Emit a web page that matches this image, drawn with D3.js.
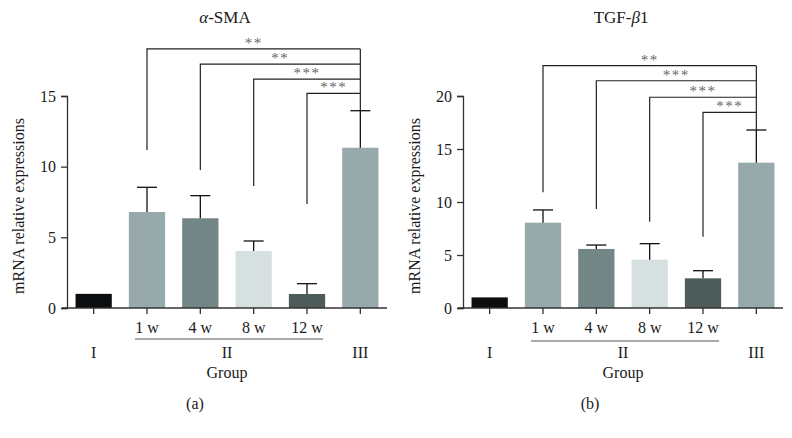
<!DOCTYPE html>
<html>
<head>
<meta charset="utf-8">
<script src="https://cdn.jsdelivr.net/npm/d3@7"></script>
<style>
  html, body { margin: 0; padding: 0; background: #fff; }
  svg { display: block; }
  text { font-family: "Liberation Serif", "DejaVu Serif", serif; fill: #1a1a1a; }
</style>
</head>
<body>
<svg id="chart" width="792" height="438"></svg>
<script>
// ---------- data ----------
const categories = ["I", "1 w", "4 w", "8 w", "12 w", "III"];
const barColors = ["#0b0d0e", "#98a9ac", "#728685", "#d6e0e1", "#4e5b5b", "#98a9ac"];

// Panel (a): alpha-SMA
const smaMeans = [1.0, 6.79, 6.35, 4.03, 0.99, 11.34];
const smaErrTop = [1.0, 8.54, 7.95, 4.74, 1.72, 13.96];
const smaTicks = [0, 5, 10, 15];
const smaBracketFrom = ["1 w", "4 w", "8 w", "12 w"];
const smaBracketLevel = [18.33, 17.25, 16.19, 15.19];
const smaBracketLegEnd = [11.18, 9.77, 8.63, 7.36];
const smaBracketStars = ["**", "**", "***", "***"];

// Panel (b): TGF-beta1
const tgfMeans = [1.0, 8.05, 5.57, 4.56, 2.8, 13.71];
const tgfErrTop = [1.0, 9.25, 5.94, 6.07, 3.52, 16.79];
const tgfTicks = [0, 5, 10, 15, 20];
const tgfBracketFrom = ["1 w", "4 w", "8 w", "12 w"];
const tgfBracketLevel = [22.86, 21.44, 19.88, 18.46];
const tgfBracketLegEnd = [10.92, 9.34, 8.14, 6.73];
const tgfBracketStars = ["**", "***", "***", "***"];

const groupLabels = ["I", "II", "III"];
const weekCats = ["1 w", "4 w", "8 w", "12 w"];
// title pieces: [text, italic?]
const smaTitle = [["α", true], ["-SMA", false]];
const tgfTitle = [["TGF-", false], ["β", true], ["1", false]];

// ---------- drawing ----------
const svg = d3.select("#chart");
const FS = 16;

function drawPanel(opts) {
  const g = svg.append("g").attr("transform", `translate(${opts.dx},0)`);
  const left = 67, right = 387, y0 = 308, yTop = 96;

  const x = d3.scaleBand().domain(categories).range([left, right])
    .paddingInner(0.32).paddingOuter(0.16);
  const y = d3.scaleLinear().domain([0, opts.yMax]).range([y0, yTop]);
  const cx = c => x(c) + x.bandwidth() / 2;

  // bars
  g.selectAll("rect.bar").data(categories).join("rect")
    .attr("class", "bar")
    .attr("x", c => x(c))
    .attr("width", x.bandwidth())
    .attr("y", (c, i) => y(opts.means[i]))
    .attr("height", (c, i) => y0 - y(opts.means[i]))
    .attr("fill", (c, i) => barColors[i]);

  // error bars (upper only)
  const errData = categories.map((c, i) => ({ c, m: opts.means[i], e: opts.errTop[i] }))
    .filter(d => d.e > d.m);
  g.selectAll("line.errv").data(errData).join("line").attr("class", "errv")
    .attr("x1", d => cx(d.c)).attr("x2", d => cx(d.c))
    .attr("y1", d => y(d.m)).attr("y2", d => y(d.e))
    .attr("stroke", "#111").attr("stroke-width", 1.3);
  g.selectAll("line.errh").data(errData).join("line").attr("class", "errh")
    .attr("x1", d => cx(d.c) - 10).attr("x2", d => cx(d.c) + 10)
    .attr("y1", d => y(d.e)).attr("y2", d => y(d.e))
    .attr("stroke", "#111").attr("stroke-width", 1.3);

  // y axis
  const yAxis = d3.axisLeft(y).tickValues(opts.ticks).tickSize(6).tickPadding(5);
  const ya = g.append("g").attr("transform", `translate(${left},0)`).call(yAxis);
  ya.select(".domain").attr("stroke", "#333").attr("stroke-width", 1.3);
  ya.selectAll(".tick line").attr("stroke", "#333").attr("stroke-width", 1.3);
  ya.selectAll(".tick text").attr("font-size", FS)
    .attr("font-family", "Liberation Serif, DejaVu Serif, serif").attr("fill", "#1a1a1a");

  // x axis
  const xAxis = d3.axisBottom(x).tickSize(6).tickFormat("");
  const xa = g.append("g").attr("transform", `translate(0,${y0})`).call(xAxis);
  xa.select(".domain").remove();
  xa.append("line").attr("x1", left - 5).attr("x2", right).attr("y1", 0).attr("y2", 0)
    .attr("stroke", "#333").attr("stroke-width", 1.3);
  xa.selectAll(".tick line").attr("stroke", "#333").attr("stroke-width", 1.3);

  // week labels
  g.selectAll("text.wk").data(weekCats).join("text").attr("class", "wk")
    .attr("x", c => cx(c)).attr("y", 333).attr("text-anchor", "middle")
    .attr("font-size", FS).text(c => c);
  g.append("line")
    .attr("x1", cx("1 w") - 12).attr("x2", cx("12 w") + 16)
    .attr("y1", opts.lineY).attr("y2", opts.lineY)
    .attr("stroke", "#555").attr("stroke-width", 1.2);

  const groupX = [cx("I"), (cx("1 w") + cx("12 w")) / 2, cx("III")];
  g.selectAll("text.grp").data(groupLabels).join("text").attr("class", "grp")
    .attr("x", (d, i) => groupX[i]).attr("y", 358).attr("text-anchor", "middle")
    .attr("font-size", FS).text(d => d);

  g.append("text").attr("x", groupX[1]).attr("y", 378).attr("text-anchor", "middle")
    .attr("font-size", FS).text("Group");

  g.append("text").attr("x", opts.capX).attr("y", 409).attr("text-anchor", "middle")
    .attr("font-size", FS).text(opts.caption);

  // y label
  g.append("text").attr("transform", "translate(24,206) rotate(-90)")
    .attr("text-anchor", "middle").attr("font-size", FS)
    .text("mRNA relative expressions");

  // title
  const t = g.append("text").attr("x", 225).attr("y", 23).attr("text-anchor", "middle")
    .attr("font-size", 17);
  opts.title.forEach(([s, it]) => {
    const sp = t.append("tspan").text(s);
    if (it) sp.attr("font-style", "italic");
  });

  // significance brackets
  const rx = cx("III");
  opts.bFrom.forEach((c, i) => {
    const lx = cx(c), ly = y(opts.bLevel[i]);
    g.append("path")
      .attr("d", `M${lx},${y(opts.bLegEnd[i])}V${ly}H${rx}`)
      .attr("fill", "none").attr("stroke", "#222").attr("stroke-width", 1.2);
    g.append("text").attr("x", (lx + rx) / 2).attr("y", ly - 1)
      .attr("text-anchor", "middle").attr("font-size", 15)
      .attr("letter-spacing", 1.5).style("fill", "#666")
      .text(opts.bStars[i]);
  });
  // right common leg down to error cap of III
  g.append("line").attr("x1", rx).attr("x2", rx)
    .attr("y1", y(opts.bLevel[0])).attr("y2", y(opts.errTop[5]))
    .attr("stroke", "#222").attr("stroke-width", 1.2);
}

drawPanel({
  dx: 0, yMax: 15, means: smaMeans, errTop: smaErrTop, ticks: smaTicks,
  bFrom: smaBracketFrom, bLevel: smaBracketLevel, bLegEnd: smaBracketLegEnd, bStars: smaBracketStars,
  title: smaTitle, caption: "(a)", capX: 195, lineY: 339
});
drawPanel({
  dx: 396, yMax: 20, means: tgfMeans, errTop: tgfErrTop, ticks: tgfTicks,
  bFrom: tgfBracketFrom, bLevel: tgfBracketLevel, bLegEnd: tgfBracketLegEnd, bStars: tgfBracketStars,
  title: tgfTitle, caption: "(b)", capX: 194, lineY: 341
});
</script>
</body>
</html>
